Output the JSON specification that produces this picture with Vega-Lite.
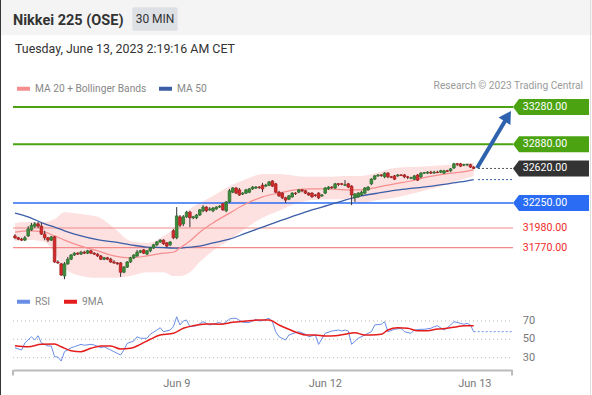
{
  "$schema": "https://vega.github.io/schema/vega-lite/v6.json",
  "width": 592,
  "height": 370,
  "autosize": "none",
  "padding": {"left": 0, "top": 0, "right": 0, "bottom": 25},
  "background": "white",
  "config": {
    "view": {"stroke": null},
    "font": "Roboto",
    "legend": {"symbolType": "stroke"},
    "scale": {"continuousPadding": 0}
  },
  "datasets": {
    "candles": [
      {"i":0,"o":31895,"h":31915,"l":31860,"c":31875},{"i":1,"o":31875,"h":31885,"l":31850,"c":31860},{"i":2,"o":31860,"h":31875,"l":31840,"c":31850},{"i":3,"o":31850,"h":31895,"l":31840,"c":31875},
      {"i":4,"o":31895,"h":32000,"l":31885,"c":31970},{"i":5,"o":31960,"h":32035,"l":31950,"c":32010},{"i":6,"o":32000,"h":32045,"l":31980,"c":32025},{"i":7,"o":32025,"h":32045,"l":31980,"c":32000},
      {"i":8,"o":32000,"h":32035,"l":31905,"c":31915},{"i":9,"o":31915,"h":31950,"l":31850,"c":31875},{"i":10,"o":31875,"h":31885,"l":31830,"c":31850},{"i":11,"o":31850,"h":31895,"l":31840,"c":31885},
      {"i":12,"o":31885,"h":31895,"l":31605,"c":31615},{"i":13,"o":31615,"h":31635,"l":31595,"c":31605},{"i":14,"o":31595,"h":31605,"l":31465,"c":31475},{"i":15,"o":31465,"h":31615,"l":31430,"c":31595},
      {"i":16,"o":31595,"h":31670,"l":31585,"c":31645},{"i":17,"o":31645,"h":31700,"l":31635,"c":31690},{"i":18,"o":31690,"h":31720,"l":31680,"c":31710},{"i":19,"o":31710,"h":31720,"l":31690,"c":31700},
      {"i":20,"o":31700,"h":31735,"l":31690,"c":31720},{"i":21,"o":31720,"h":31735,"l":31700,"c":31710},{"i":22,"o":31710,"h":31745,"l":31700,"c":31735},{"i":23,"o":31735,"h":31745,"l":31700,"c":31710},
      {"i":24,"o":31710,"h":31720,"l":31690,"c":31700},{"i":25,"o":31700,"h":31710,"l":31670,"c":31680},{"i":26,"o":31680,"h":31690,"l":31635,"c":31645},{"i":27,"o":31645,"h":31670,"l":31635,"c":31660},
      {"i":28,"o":31660,"h":31670,"l":31635,"c":31645},{"i":29,"o":31645,"h":31660,"l":31605,"c":31615},{"i":30,"o":31615,"h":31635,"l":31595,"c":31605},{"i":31,"o":31605,"h":31615,"l":31585,"c":31595},
      {"i":32,"o":31605,"h":31615,"l":31455,"c":31505},{"i":33,"o":31505,"h":31570,"l":31495,"c":31560},{"i":34,"o":31560,"h":31625,"l":31550,"c":31615},{"i":35,"o":31615,"h":31670,"l":31605,"c":31660},
      {"i":36,"o":31660,"h":31700,"l":31645,"c":31690},{"i":37,"o":31680,"h":31745,"l":31670,"c":31720},{"i":38,"o":31720,"h":31745,"l":31710,"c":31735},{"i":39,"o":31745,"h":31755,"l":31700,"c":31710},
      {"i":40,"o":31700,"h":31745,"l":31690,"c":31735},{"i":41,"o":31735,"h":31775,"l":31720,"c":31765},{"i":42,"o":31765,"h":31810,"l":31755,"c":31800},{"i":43,"o":31800,"h":31840,"l":31785,"c":31830},
      {"i":44,"o":31830,"h":31860,"l":31820,"c":31850},{"i":45,"o":31850,"h":31860,"l":31800,"c":31810},{"i":46,"o":31820,"h":31830,"l":31775,"c":31785},{"i":47,"o":31800,"h":31840,"l":31785,"c":31830},
      {"i":48,"o":31950,"h":31970,"l":31860,"c":31875},{"i":49,"o":31875,"h":32205,"l":31860,"c":32110},{"i":50,"o":32100,"h":32120,"l":31990,"c":32010},{"i":51,"o":32025,"h":32120,"l":32000,"c":32100},
      {"i":52,"o":32100,"h":32165,"l":32090,"c":32150},{"i":53,"o":32150,"h":32165,"l":31990,"c":32090},{"i":54,"o":32090,"h":32110,"l":32075,"c":32100},{"i":55,"o":32090,"h":32130,"l":32075,"c":32120},
      {"i":56,"o":32120,"h":32185,"l":32110,"c":32175},{"i":57,"o":32165,"h":32225,"l":32150,"c":32205},{"i":58,"o":32205,"h":32215,"l":32150,"c":32165},{"i":59,"o":32175,"h":32205,"l":32165,"c":32185},
      {"i":60,"o":32165,"h":32205,"l":32150,"c":32195},{"i":61,"o":32185,"h":32215,"l":32175,"c":32205},{"i":62,"o":32205,"h":32225,"l":32195,"c":32215},{"i":63,"o":32240,"h":32250,"l":32165,"c":32175},
      {"i":64,"o":32165,"h":32270,"l":32150,"c":32260},{"i":65,"o":32260,"h":32400,"l":32250,"c":32380},{"i":66,"o":32365,"h":32420,"l":32355,"c":32410},{"i":67,"o":32410,"h":32420,"l":32345,"c":32355},
      {"i":68,"o":32390,"h":32410,"l":32325,"c":32335},{"i":69,"o":32345,"h":32365,"l":32335,"c":32355},{"i":70,"o":32355,"h":32400,"l":32345,"c":32390},{"i":71,"o":32365,"h":32410,"l":32355,"c":32400},
      {"i":72,"o":32400,"h":32430,"l":32390,"c":32420},{"i":73,"o":32410,"h":32430,"l":32400,"c":32420},{"i":74,"o":32420,"h":32430,"l":32400,"c":32415},{"i":75,"o":32440,"h":32465,"l":32365,"c":32400},
      {"i":76,"o":32430,"h":32455,"l":32420,"c":32440},{"i":77,"o":32440,"h":32485,"l":32430,"c":32475},{"i":78,"o":32485,"h":32495,"l":32420,"c":32430},{"i":79,"o":32455,"h":32465,"l":32355,"c":32365},
      {"i":80,"o":32365,"h":32380,"l":32315,"c":32325},{"i":81,"o":32355,"h":32365,"l":32290,"c":32305},{"i":82,"o":32305,"h":32315,"l":32250,"c":32280},{"i":83,"o":32290,"h":32335,"l":32280,"c":32325},
      {"i":84,"o":32315,"h":32365,"l":32305,"c":32355},{"i":85,"o":32355,"h":32365,"l":32335,"c":32350},{"i":86,"o":32365,"h":32400,"l":32355,"c":32390},{"i":87,"o":32390,"h":32400,"l":32365,"c":32380},
      {"i":88,"o":32380,"h":32390,"l":32345,"c":32355},{"i":89,"o":32355,"h":32365,"l":32325,"c":32335},{"i":90,"o":32355,"h":32365,"l":32305,"c":32315},{"i":91,"o":32335,"h":32345,"l":32315,"c":32330},
      {"i":92,"o":32355,"h":32365,"l":32290,"c":32305},{"i":93,"o":32325,"h":32345,"l":32315,"c":32335},{"i":94,"o":32355,"h":32420,"l":32345,"c":32410},{"i":95,"o":32400,"h":32430,"l":32390,"c":32420},
      {"i":96,"o":32420,"h":32430,"l":32400,"c":32415},{"i":97,"o":32410,"h":32465,"l":32400,"c":32455},{"i":98,"o":32455,"h":32465,"l":32430,"c":32450},{"i":99,"o":32455,"h":32465,"l":32440,"c":32450},
      {"i":100,"o":32440,"h":32495,"l":32430,"c":32445},{"i":101,"o":32455,"h":32465,"l":32410,"c":32420},{"i":102,"o":32430,"h":32440,"l":32225,"c":32335},{"i":103,"o":32305,"h":32355,"l":32260,"c":32345},
      {"i":104,"o":32315,"h":32365,"l":32305,"c":32355},{"i":105,"o":32335,"h":32380,"l":32325,"c":32365},{"i":106,"o":32355,"h":32420,"l":32345,"c":32410},{"i":107,"o":32390,"h":32430,"l":32380,"c":32420},
      {"i":108,"o":32455,"h":32515,"l":32440,"c":32505},{"i":109,"o":32505,"h":32550,"l":32495,"c":32540},{"i":110,"o":32540,"h":32560,"l":32530,"c":32550},{"i":111,"o":32550,"h":32560,"l":32530,"c":32545},
      {"i":112,"o":32530,"h":32580,"l":32515,"c":32570},{"i":113,"o":32570,"h":32580,"l":32515,"c":32530},{"i":114,"o":32530,"h":32540,"l":32515,"c":32525},{"i":115,"o":32540,"h":32550,"l":32495,"c":32505},
      {"i":116,"o":32540,"h":32560,"l":32530,"c":32550},{"i":117,"o":32550,"h":32560,"l":32540,"c":32545},{"i":118,"o":32550,"h":32560,"l":32515,"c":32530},{"i":119,"o":32530,"h":32540,"l":32505,"c":32525},
      {"i":120,"o":32515,"h":32530,"l":32505,"c":32520},{"i":121,"o":32505,"h":32550,"l":32495,"c":32540},{"i":122,"o":32550,"h":32560,"l":32485,"c":32495},{"i":123,"o":32530,"h":32580,"l":32515,"c":32570},
      {"i":124,"o":32570,"h":32580,"l":32560,"c":32575},{"i":125,"o":32570,"h":32590,"l":32560,"c":32580},{"i":126,"o":32580,"h":32595,"l":32560,"c":32570},{"i":127,"o":32570,"h":32595,"l":32565,"c":32580},
      {"i":128,"o":32580,"h":32595,"l":32570,"c":32575},{"i":129,"o":32580,"h":32605,"l":32570,"c":32595},{"i":130,"o":32570,"h":32605,"l":32560,"c":32595},{"i":131,"o":32595,"h":32605,"l":32580,"c":32590},
      {"i":132,"o":32595,"h":32625,"l":32580,"c":32615},{"i":133,"o":32625,"h":32680,"l":32615,"c":32670},{"i":134,"o":32670,"h":32680,"l":32645,"c":32665},{"i":135,"o":32670,"h":32680,"l":32635,"c":32645},
      {"i":136,"o":32655,"h":32670,"l":32645,"c":32660},{"i":137,"o":32660,"h":32670,"l":32645,"c":32665},{"i":138,"o":32660,"h":32670,"l":32625,"c":32635},{"i":139,"o":32635,"h":32645,"l":32615,"c":32620}
    ],
    "ind": [
      {"i":0,"m20":31935,"up":32035,"lo":31840,"m50":32140},{"i":4,"m20":31950,"up":32045,"lo":31850,"m50":32100},
      {"i":9,"m20":31935,"up":32045,"lo":31830,"m50":32025},{"i":12,"m20":31895,"up":32075,"lo":31710,"m50":31990},
      {"i":15,"m20":31850,"up":32150,"lo":31550,"m50":31950},{"i":20,"m20":31785,"up":32130,"lo":31465,"m50":31895},
      {"i":25,"m20":31735,"up":32100,"lo":31445,"m50":31855},{"i":30,"m20":31680,"up":31980,"lo":31445,"m50":31830},
      {"i":35,"m20":31660,"up":31840,"lo":31465,"m50":31800},{"i":40,"m20":31680,"up":31820,"lo":31505,"m50":31775},
      {"i":45,"m20":31710,"up":31895,"lo":31505,"m50":31770},{"i":48,"m20":31720,"up":31970,"lo":31465,"m50":31765},
      {"i":50,"m20":31765,"up":32065,"lo":31465,"m50":31765},{"i":53,"m20":31840,"up":32185,"lo":31505,"m50":31775},
      {"i":56,"m20":31935,"up":32250,"lo":31615,"m50":31785},{"i":60,"m20":32035,"up":32325,"lo":31735,"m50":31820},
      {"i":65,"m20":32140,"up":32430,"lo":31850,"m50":31860},{"i":70,"m20":32240,"up":32505,"lo":31980,"m50":31925},
      {"i":75,"m20":32315,"up":32560,"lo":32090,"m50":31990},{"i":80,"m20":32355,"up":32560,"lo":32165,"m50":32055},
      {"i":85,"m20":32390,"up":32540,"lo":32240,"m50":32115},{"i":90,"m20":32400,"up":32530,"lo":32280,"m50":32175},
      {"i":95,"m20":32400,"up":32530,"lo":32290,"m50":32225},{"i":100,"m20":32390,"up":32540,"lo":32290,"m50":32280},
      {"i":105,"m20":32390,"up":32540,"lo":32250,"m50":32325},{"i":110,"m20":32420,"up":32580,"lo":32280,"m50":32355},
      {"i":115,"m20":32455,"up":32625,"lo":32305,"m50":32385},{"i":120,"m20":32485,"up":32635,"lo":32345,"m50":32405},
      {"i":125,"m20":32530,"up":32645,"lo":32390,"m50":32425},{"i":130,"m20":32560,"up":32655,"lo":32440,"m50":32450},
      {"i":135,"m20":32580,"up":32670,"lo":32495,"m50":32475},{"i":139,"m20":32605,"up":32680,"lo":32540,"m50":32500}
    ],
    "levels": [
      {"v":33280,"kind":"R2"},{"v":32880,"kind":"R1"},{"v":32620,"kind":"Last"},
      {"v":32250,"kind":"S1"},{"v":31980,"kind":"S2"},{"v":31770,"kind":"S3"}
    ],
    "rsi": [
      {"i":0,"v":40.8},{"i":2,"v":38.3},{"i":3,"v":46},{"i":5,"v":52.8},{"i":6,"v":49.2},{"i":7,"v":53.9},{"i":8,"v":46},{"i":10,"v":42.7},
      {"i":11,"v":42.7},{"i":12,"v":31},{"i":13,"v":30.7},{"i":14,"v":26.3},{"i":15,"v":36.5},{"i":17,"v":40.8},{"i":18,"v":41.9},{"i":20,"v":44.5},
      {"i":21,"v":43.5},{"i":23,"v":44.5},{"i":24,"v":43.8},{"i":26,"v":40.8},{"i":27,"v":41.9},{"i":29,"v":38.3},{"i":30,"v":36.5},{"i":32,"v":32.9},
      {"i":33,"v":38.3},{"i":34,"v":45.6},{"i":36,"v":48.1},{"i":37,"v":52.8},{"i":38,"v":51.1},{"i":40,"v":51.1},{"i":41,"v":55.5},{"i":43,"v":60.1},
      {"i":44,"v":62.6},{"i":45,"v":58.3},{"i":47,"v":60.1},{"i":48,"v":63.7},{"i":49,"v":74.6},{"i":50,"v":65.6},{"i":51,"v":70},{"i":52,"v":71},
      {"i":53,"v":63.7},{"i":55,"v":64.8},{"i":57,"v":69.2},{"i":59,"v":65.6},{"i":60,"v":66.4},{"i":62,"v":68.5},{"i":63,"v":66.4},{"i":65,"v":72.1},
      {"i":66,"v":72.9},{"i":67,"v":72.9},{"i":69,"v":68.5},{"i":71,"v":68.3},{"i":73,"v":71.8},{"i":74,"v":70},{"i":75,"v":70.5},{"i":77,"v":72.9},
      {"i":78,"v":69.2},{"i":79,"v":58.3},{"i":80,"v":52.8},{"i":82,"v":49.2},{"i":83,"v":54.7},{"i":85,"v":57.2},{"i":86,"v":58.3},{"i":88,"v":55.5},
      {"i":89,"v":52.8},{"i":91,"v":54.7},{"i":92,"v":44.5},{"i":94,"v":56.5},{"i":96,"v":59},{"i":98,"v":60.1},{"i":99,"v":59},{"i":100,"v":60.1},
      {"i":101,"v":59},{"i":102,"v":44.5},{"i":104,"v":51.1},{"i":106,"v":54.7},{"i":108,"v":58.3},{"i":109,"v":65.6},{"i":111,"v":66.4},{"i":112,"v":69.2},
      {"i":113,"v":58.3},{"i":115,"v":60.9},{"i":117,"v":62},{"i":118,"v":58.3},{"i":120,"v":56.5},{"i":121,"v":60.1},{"i":123,"v":60.9},{"i":124,"v":60.9},
      {"i":126,"v":62},{"i":127,"v":63.7},{"i":128,"v":64.8},{"i":130,"v":60.1},{"i":131,"v":62.6},{"i":132,"v":65.6},{"i":133,"v":69.2},{"i":135,"v":67.4},
      {"i":136,"v":66.4},{"i":137,"v":67.4},{"i":138,"v":65.6},{"i":139,"v":58.3}
    ],
    "ma9": [
      {"i":0,"v":43},{"i":4,"v":41.9},{"i":8,"v":44.5},{"i":12,"v":44.9},{"i":14,"v":41.9},{"i":17,"v":37.6},{"i":20,"v":36.5},{"i":23,"v":40.2},
      {"i":26,"v":42.7},{"i":29,"v":42.7},{"i":32,"v":39.4},{"i":35,"v":40.2},{"i":38,"v":44.5},{"i":41,"v":50},{"i":44,"v":54.7},{"i":48,"v":56.5},
      {"i":51,"v":62},{"i":54,"v":64.8},{"i":58,"v":66.7},{"i":62,"v":66.4},{"i":66,"v":68.5},{"i":70,"v":70},{"i":74,"v":71},{"i":77,"v":71},
      {"i":80,"v":65.6},{"i":83,"v":60.9},{"i":86,"v":56.5},{"i":88,"v":54.7},{"i":91,"v":54.7},{"i":94,"v":53.6},{"i":97,"v":53.9},{"i":100,"v":55.5},
      {"i":103,"v":57.2},{"i":106,"v":54.7},{"i":108,"v":54.7},{"i":111,"v":55.5},{"i":113,"v":60.1},{"i":116,"v":62.6},{"i":119,"v":62},{"i":122,"v":59.4},
      {"i":125,"v":59.4},{"i":128,"v":61.2},{"i":131,"v":62},{"i":134,"v":63.7},{"i":136,"v":64.8},{"i":139,"v":64.8}
    ],
    "rsilevels": [{"r":70},{"r":50},{"r":30}],
    "arrow": [{"i":140,"p":32625,"i2":148.5,"p2":33130,"hi":149.3,"hp":33183}]
  },
  "layer": [
    {
      "layer": [
        {"data": {"values": [{}]}, "mark": {"type": "rect", "color": "#f4f4f4"},
         "encoding": {"x": {"datum": -4.6, "type": "quantitative", "scale": {"domain": [-0.6, 150.6], "range": [13, 512], "nice": false, "zero": false, "padding": 0}}, "x2": {"datum": 174.9},
                      "y": {"datum": 34430, "type": "quantitative", "scale": {"domain": [31400, 33420], "range": [282, 94], "nice": false, "zero": false, "padding": 0}, "axis": null}, "y2": {"datum": 34054}}},
        {"data": {"values": [{}]}, "mark": {"type": "rule", "color": "#333333", "strokeWidth": 1},
         "encoding": {"x": {"datum": -4.39, "type": "quantitative"}, "y": {"datum": 34430, "type": "quantitative", "axis": null}, "y2": {"datum": 30186}}},
        {"data": {"values": [{}]}, "mark": {"type": "rule", "color": "#dddddd", "strokeWidth": 1},
         "encoding": {"x": {"datum": 174.4, "type": "quantitative"}, "y": {"datum": 34430, "type": "quantitative", "axis": null}, "y2": {"datum": 30186}}},
        {"data": {"values": [{}]}, "mark": {"type": "text", "text": "Nikkei 225 (OSE)", "align": "left", "baseline": "alphabetic", "fontSize": 14.5, "fontWeight": "bold", "font": "Roboto", "color": "#333333"},
         "encoding": {"x": {"datum": -0.6, "type": "quantitative"}, "y": {"datum": 34161, "type": "quantitative", "axis": null}}},
        {"data": {"values": [{}]}, "mark": {"type": "rect", "color": "#dde0e5", "cornerRadius": 2},
         "encoding": {"x": {"datum": 35.55, "type": "quantitative"}, "x2": {"datum": 49.3}, "y": {"datum": 34352, "type": "quantitative", "axis": null}, "y2": {"datum": 34100}}},
        {"data": {"values": [{}]}, "mark": {"type": "text", "text": "30 MIN", "align": "center", "baseline": "alphabetic", "fontSize": 12, "font": "Roboto", "color": "#333333"},
         "encoding": {"x": {"datum": 42.43, "type": "quantitative"}, "y": {"datum": 34183, "type": "quantitative", "axis": null}}},
        {"data": {"values": [{}]}, "mark": {"type": "text", "text": "Tuesday, June 13, 2023 2:19:16 AM CET", "align": "left", "baseline": "alphabetic", "fontSize": 12.4, "font": "Roboto", "color": "#333333"},
         "encoding": {"x": {"datum": 0, "type": "quantitative"}, "y": {"datum": 33861, "type": "quantitative", "axis": null}}},
        {"data": {"values": [{}]}, "mark": {"type": "text", "text": "Research © 2023 Trading Central", "align": "right", "baseline": "middle", "fontSize": 10.2, "font": "Roboto", "color": "#9a9a9a"},
         "encoding": {"x": {"datum": 172.1, "type": "quantitative"}, "y": {"datum": 33506, "type": "quantitative", "axis": null}}},
        {"data": {"name": "ind"}, "mark": {"type": "area", "color": "#fde0e0", "interpolate": "monotone"},
         "encoding": {"x": {"field": "i", "type": "quantitative"}, "y": {"field": "up", "type": "quantitative", "axis": null}, "y2": {"field": "lo"}}},
        {"data": {"name": "levels"}, "transform": [{"filter": "datum.kind == 'R1' || datum.kind == 'R2'"}], "mark": {"type": "rule", "color": "#4ba312", "strokeWidth": 2},
         "encoding": {"x": {"datum": -0.6, "type": "quantitative"}, "x2": {"datum": 150.9}, "y": {"field": "v", "type": "quantitative", "axis": null}}},
        {"data": {"name": "levels"}, "transform": [{"filter": "datum.kind == 'S1'"}], "mark": {"type": "rule", "color": "#2a6df4", "strokeWidth": 1.5},
         "encoding": {"x": {"datum": -0.6, "type": "quantitative"}, "x2": {"datum": 150.9}, "y": {"field": "v", "type": "quantitative", "axis": null}}},
        {"data": {"name": "levels"}, "transform": [{"filter": "datum.kind == 'S2' || datum.kind == 'S3'"}], "mark": {"type": "rule", "color": "#f28b8b", "strokeWidth": 1.2},
         "encoding": {"x": {"datum": -0.6, "type": "quantitative"}, "x2": {"datum": 150.9}, "y": {"field": "v", "type": "quantitative", "axis": null}}},
        {"data": {"name": "ind"}, "mark": {"type": "line", "strokeWidth": 1.3, "interpolate": "monotone"},
         "encoding": {"x": {"field": "i", "type": "quantitative"}, "y": {"field": "m50", "type": "quantitative", "axis": null},
                      "color": {"datum": "MA 50", "type": "nominal", "scale": {"domain": ["MA 20 + Bollinger Bands", "MA 50"], "range": ["#f78e8e", "#3b5ea6"]},
                                "legend": {"orient": "none", "legendX": 15, "legendY": 80, "direction": "horizontal", "title": null, "labelFont": "Roboto", "labelFontSize": 10.2, "labelColor": "#888888", "symbolSize": 169, "symbolStrokeWidth": 4, "symbolType": "stroke", "labelOffset": 3, "columnPadding": 4, "padding": 0}}}},
        {"data": {"name": "ind"}, "mark": {"type": "line", "strokeWidth": 1.2, "interpolate": "monotone"},
         "encoding": {"x": {"field": "i", "type": "quantitative"}, "y": {"field": "m20", "type": "quantitative", "axis": null},
                      "color": {"datum": "MA 20 + Bollinger Bands", "type": "nominal"}}},
        {"data": {"name": "candles"}, "mark": {"type": "rule", "color": "#333333", "strokeWidth": 1},
         "encoding": {"x": {"field": "i", "type": "quantitative"}, "y": {"field": "l", "type": "quantitative", "axis": null}, "y2": {"field": "h"}}},
        {"data": {"name": "candles"}, "mark": {"type": "bar", "size": 2.6, "strokeWidth": 0.8},
         "encoding": {"x": {"field": "i", "type": "quantitative"}, "y": {"field": "o", "type": "quantitative", "axis": null}, "y2": {"field": "c"},
                      "fill": {"condition": {"test": "datum.c >= datum.o", "value": "#3b8f3b"}, "value": "#d42a2a"},
                      "stroke": {"condition": {"test": "datum.c >= datum.o", "value": "#2f6f2f"}, "value": "#a82020"}}},
        {"data": {"name": "levels"}, "transform": [{"filter": "datum.kind == 'Last'"}], "mark": {"type": "rule", "color": "#555555", "strokeWidth": 1, "strokeDash": [2, 2]},
         "encoding": {"x": {"datum": 140.3, "type": "quantitative"}, "x2": {"datum": 150.9}, "y": {"field": "v", "type": "quantitative", "axis": null}}},
        {"data": {"name": "ind"}, "transform": [{"filter": "datum.i == 139"}], "mark": {"type": "rule", "color": "#3b5ea6", "strokeWidth": 1, "strokeDash": [2, 2]},
         "encoding": {"x": {"datum": 140.3, "type": "quantitative"}, "x2": {"datum": 150.9}, "y": {"field": "m50", "type": "quantitative", "axis": null}}},
        {"data": {"name": "arrow"}, "mark": {"type": "rule", "color": "#2e62ad", "strokeWidth": 4, "strokeCap": "butt"},
         "encoding": {"x": {"field": "i", "type": "quantitative"}, "x2": {"field": "i2"}, "y": {"field": "p", "type": "quantitative", "axis": null}, "y2": {"field": "p2"}}},
        {"data": {"name": "arrow"}, "mark": {"type": "point", "shape": "triangle-up", "angle": 32, "size": 196, "filled": true, "color": "#2e62ad", "opacity": 1},
         "encoding": {"x": {"field": "hi", "type": "quantitative"}, "y": {"field": "hp", "type": "quantitative", "axis": null}}},
        {"data": {"name": "levels"}, "transform": [{"filter": "datum.kind != 'S2' && datum.kind != 'S3'"}],
         "mark": {"type": "point", "shape": "M0,0L0.6,-0.8L7.6,-0.8L7.6,0.8L0.6,0.8Z", "size": 400, "filled": true, "strokeWidth": 0, "opacity": 1},
         "encoding": {"x": {"datum": 150.9, "type": "quantitative"}, "y": {"field": "v", "type": "quantitative", "axis": null},
                      "fill": {"field": "kind", "type": "nominal", "scale": {"domain": ["R2", "R1", "Last", "S1"], "range": ["#4ba312", "#4ba312", "#333333", "#2a6df4"]}, "legend": null}}},
        {"data": {"name": "levels"}, "transform": [{"filter": "datum.kind != 'S2' && datum.kind != 'S3'"}],
         "mark": {"type": "text", "align": "left", "baseline": "middle", "fontSize": 10.6, "font": "Roboto", "color": "#ffffff"},
         "encoding": {"x": {"datum": 153.84, "type": "quantitative"}, "y": {"field": "v", "type": "quantitative", "axis": null}, "text": {"field": "v", "type": "quantitative", "format": ".2f"}}},
        {"data": {"name": "levels"}, "transform": [{"filter": "datum.kind == 'S2' || datum.kind == 'S3'"}],
         "mark": {"type": "text", "align": "left", "baseline": "middle", "fontSize": 10.6, "font": "Roboto", "color": "#ee2b2b"},
         "encoding": {"x": {"datum": 153.84, "type": "quantitative"}, "y": {"field": "v", "type": "quantitative", "axis": null}, "text": {"field": "v", "type": "quantitative", "format": ".2f"}}}
      ]
    },
    {
      "layer": [
        {"data": {"name": "rsilevels"}, "mark": {"type": "rule", "color": "#bbbbbb", "strokeWidth": 1, "strokeDash": [1, 3]},
         "encoding": {"x": {"datum": -0.6, "type": "quantitative"}, "x2": {"datum": 150.0},
                      "y": {"field": "r", "type": "quantitative", "scale": {"domain": [10, 90], "range": [376, 302.6], "nice": false, "zero": false, "padding": 0}, "axis": null}}},
        {"data": {"name": "rsilevels"}, "mark": {"type": "text", "align": "left", "baseline": "middle", "fontSize": 11, "font": "Roboto", "color": "#777777"},
         "encoding": {"x": {"datum": 153.84, "type": "quantitative"}, "y": {"field": "r", "type": "quantitative", "axis": null}, "text": {"field": "r", "type": "quantitative"}}},
        {"data": {"values": [{"e": -0.6}, {"e": 150.6}]}, "mark": {"type": "rule", "color": "#bbbbbb", "strokeWidth": 2},
         "encoding": {"x": {"field": "e", "type": "quantitative"}, "y": {"datum": 16.5, "type": "quantitative", "axis": null}, "y2": {"datum": 10.5}}},
        {"data": {"name": "rsi"}, "mark": {"type": "line", "strokeWidth": 1},
         "encoding": {"x": {"field": "i", "type": "quantitative",
                            "axis": {"title": null, "grid": false, "ticks": false, "tickSize": 0, "values": [48.9, 93.9, 139.2],
                                     "labelExpr": "datum.value < 70 ? 'Jun 9' : datum.value < 120 ? 'Jun 12' : 'Jun 13'",
                                     "domain": true, "domainColor": "#bbbbbb", "domainWidth": 2,
                                     "labelFont": "Roboto", "labelFontSize": 11, "labelColor": "#777777", "labelPadding": 7, "labelFlush": false, "labelOverlap": false, "labelBound": false}},
                      "y": {"field": "v", "type": "quantitative", "axis": null},
                      "color": {"datum": "RSI", "type": "nominal", "scale": {"domain": ["RSI", "9MA"], "range": ["#6a8ee6", "#e51c1c"]},
                                "legend": {"orient": "none", "legendX": 15, "legendY": 293, "direction": "horizontal", "title": null, "labelFont": "Roboto", "labelFontSize": 10.2, "labelColor": "#888888", "symbolSize": 169, "symbolStrokeWidth": 4, "symbolType": "stroke", "labelOffset": 3, "columnPadding": 5, "padding": 0}}}},
        {"data": {"name": "ma9"}, "mark": {"type": "line", "strokeWidth": 1.5, "interpolate": "monotone"},
         "encoding": {"x": {"field": "i", "type": "quantitative"}, "y": {"field": "v", "type": "quantitative", "axis": null},
                      "color": {"datum": "9MA", "type": "nominal"}}},
        {"data": {"name": "rsi"}, "transform": [{"filter": "datum.i == 139"}], "mark": {"type": "rule", "color": "#6a8ee6", "strokeWidth": 1, "strokeDash": [2, 2]},
         "encoding": {"x": {"field": "i", "type": "quantitative"}, "x2": {"datum": 150.9}, "y": {"field": "v", "type": "quantitative", "axis": null}}}
      ]
    }
  ],
  "resolve": {"scale": {"y": "independent", "color": "independent"}, "legend": {"color": "independent"}}
}
